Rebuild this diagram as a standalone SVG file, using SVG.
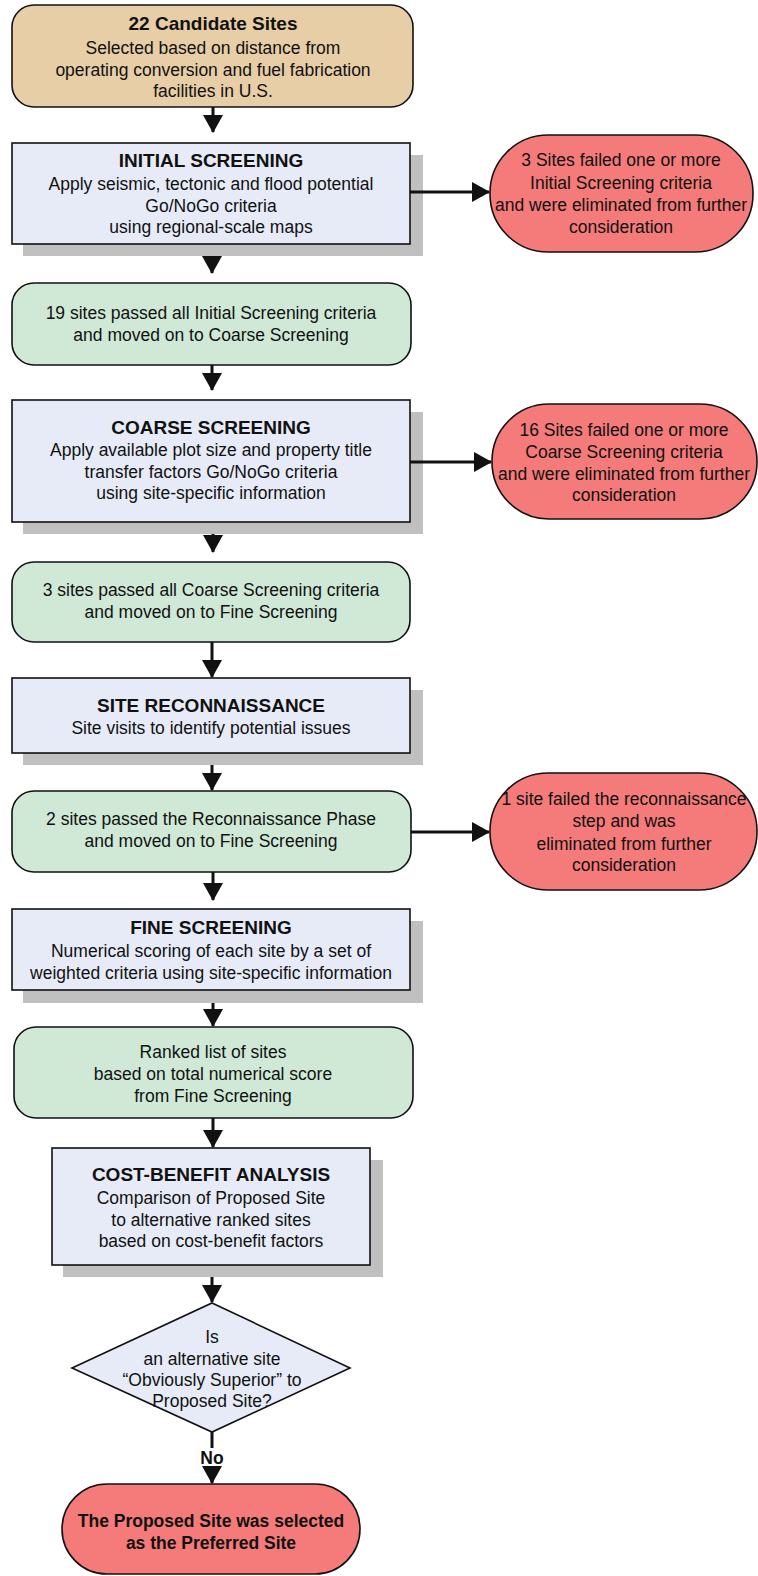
<svg xmlns="http://www.w3.org/2000/svg" width="758" height="1576" viewBox="0 0 758 1576">
<style>
text{font-family:"Liberation Sans",Arial,sans-serif;font-size:17.5px;fill:#111;text-anchor:middle}
.t{font-weight:bold;font-size:19px}
.b{font-weight:bold}
.ln{stroke:#111;stroke-width:1.6}
.tan{fill:#e8cea6}
.blue{fill:#e6ebf7}
.green{fill:#cfe9d6}
.red{fill:#f47b79}
.sh{fill:#c0c0c0}
.c{stroke:#111;stroke-width:3;fill:none}
</style>
<defs>
<marker id="ah" markerUnits="userSpaceOnUse" markerWidth="18" markerHeight="20" refX="17" refY="10" orient="auto">
<path d="M0,0 L18,10 L0,20 z" fill="#111"/>
</marker>
</defs>
<rect width="758" height="1576" fill="#fff"/>

<g id="candidates">
<rect class="tan ln" x="12" y="5" width="401" height="102" rx="22"/>
<text class="b" x="213" y="30" style="font-size:19px">22 Candidate Sites</text>
<text x="213" y="54">Selected based on distance from</text>
<text x="213" y="75.5">operating conversion and fuel fabrication</text>
<text x="213" y="97">facilities in U.S.</text>
</g>

<g id="initial">
<rect class="sh" x="23" y="155" width="400" height="101"/>
<rect class="blue ln" x="12" y="143" width="398" height="101"/>
<text class="t" x="211" y="167">INITIAL SCREENING</text>
<text x="211" y="190">Apply seismic, tectonic and flood potential</text>
<text x="211" y="211.5">Go/NoGo criteria</text>
<text x="211" y="233">using regional-scale maps</text>
</g>

<g id="fail1">
<rect class="red ln" x="490" y="135" width="263" height="117" rx="58" ry="58"/>
<text x="621" y="166">3 Sites failed one or more</text>
<text x="621" y="188.5">Initial Screening criteria</text>
<text x="621" y="211">and were eliminated from further</text>
<text x="621" y="233">consideration</text>
</g>

<g id="pass19">
<rect class="green ln" x="12" y="283" width="399" height="82" rx="22"/>
<text x="211" y="319">19 sites passed all Initial Screening criteria</text>
<text x="211" y="341">and moved on to Coarse Screening</text>
</g>

<g id="coarse">
<rect class="sh" x="23" y="412" width="400" height="122"/>
<rect class="blue ln" x="12" y="400" width="398" height="122"/>
<text class="t" x="211" y="434">COARSE SCREENING</text>
<text x="211" y="456">Apply available plot size and property title</text>
<text x="211" y="477.5">transfer factors Go/NoGo criteria</text>
<text x="211" y="499">using site-specific information</text>
</g>

<g id="fail16">
<rect class="red ln" x="492" y="404" width="265" height="115" rx="57" ry="57"/>
<text x="624" y="436">16 Sites failed one or more</text>
<text x="624" y="458">Coarse Screening criteria</text>
<text x="624" y="480">and were eliminated from further</text>
<text x="624" y="501">consideration</text>
</g>

<g id="pass3">
<rect class="green ln" x="12" y="562" width="398" height="80" rx="22"/>
<text x="211" y="596">3 sites passed all Coarse Screening criteria</text>
<text x="211" y="618">and moved on to Fine Screening</text>
</g>

<g id="recon">
<rect class="sh" x="23" y="690" width="400" height="75"/>
<rect class="blue ln" x="12" y="678" width="398" height="75"/>
<text class="t" x="211" y="712">SITE RECONNAISSANCE</text>
<text x="211" y="734">Site visits to identify potential issues</text>
</g>

<g id="pass2">
<rect class="green ln" x="12" y="791" width="399" height="81" rx="22"/>
<text x="211" y="825">2 sites passed the Reconnaissance Phase</text>
<text x="211" y="847">and moved on to Fine Screening</text>
</g>

<g id="fail1b">
<rect class="red ln" x="490" y="773" width="267" height="117" rx="58" ry="58"/>
<text x="624" y="805">1 site failed the reconnaissance</text>
<text x="624" y="827">step and was</text>
<text x="624" y="850">eliminated from further</text>
<text x="624" y="871">consideration</text>
</g>

<g id="fine">
<rect class="sh" x="23" y="921" width="400" height="82"/>
<rect class="blue ln" x="12" y="909" width="398" height="81"/>
<text class="t" x="211" y="934">FINE SCREENING</text>
<text x="211" y="957">Numerical scoring of each site by a set of</text>
<text x="211" y="979">weighted criteria using site-specific information</text>
</g>

<g id="ranked">
<rect class="green ln" x="14" y="1027" width="399" height="91" rx="22"/>
<text x="213" y="1058">Ranked list of sites</text>
<text x="213" y="1080">based on total numerical score</text>
<text x="213" y="1102">from Fine Screening</text>
</g>

<g id="costbenefit">
<rect class="sh" x="63" y="1160" width="320" height="117"/>
<rect class="blue ln" x="52" y="1148" width="318" height="117"/>
<text class="t" x="211" y="1181">COST-BENEFIT ANALYSIS</text>
<text x="211" y="1204">Comparison of Proposed Site</text>
<text x="211" y="1225.5">to alternative ranked sites</text>
<text x="211" y="1247">based on cost-benefit factors</text>
</g>

<g id="decision">
<polygon class="blue ln" points="212,1303 350,1368 212,1432 72,1368"/>
<text x="212" y="1343">Is</text>
<text x="212" y="1365">an alternative site</text>
<text x="212" y="1386">“Obviously Superior” to</text>
<text x="212" y="1407">Proposed Site?</text>
</g>

<g id="preferred">
<rect class="red ln" x="62" y="1484" width="298" height="90" rx="45" ry="45"/>
<text class="b" x="211" y="1527">The Proposed Site was selected</text>
<text class="b" x="211" y="1549">as the Preferred Site</text>
</g>

<g id="connectors">
<line class="c" x1="213" y1="107" x2="213" y2="132" marker-end="url(#ah)"/>
<line class="c" x1="212" y1="256" x2="212" y2="273" marker-end="url(#ah)"/>
<line class="c" x1="212" y1="365" x2="212" y2="390" marker-end="url(#ah)"/>
<line class="c" x1="213" y1="534" x2="213" y2="552" marker-end="url(#ah)"/>
<line class="c" x1="212" y1="642" x2="212" y2="677" marker-end="url(#ah)"/>
<line class="c" x1="212" y1="765" x2="212" y2="790" marker-end="url(#ah)"/>
<line class="c" x1="213" y1="872" x2="213" y2="900" marker-end="url(#ah)"/>
<line class="c" x1="213" y1="1003" x2="213" y2="1026" marker-end="url(#ah)"/>
<line class="c" x1="213" y1="1118" x2="213" y2="1147" marker-end="url(#ah)"/>
<line class="c" x1="212" y1="1277" x2="212" y2="1302" marker-end="url(#ah)"/>
<line class="c" x1="212" y1="1432" x2="212" y2="1448"/>
<line class="c" x1="212" y1="1467" x2="212" y2="1483" marker-end="url(#ah)"/>
<line class="c" x1="410" y1="192" x2="489" y2="192" marker-end="url(#ah)"/>
<line class="c" x1="410" y1="462" x2="491" y2="462" marker-end="url(#ah)"/>
<line class="c" x1="411" y1="832" x2="489" y2="832" marker-end="url(#ah)"/>
<text class="b" x="212" y="1464">No</text>
</g>
</svg>
